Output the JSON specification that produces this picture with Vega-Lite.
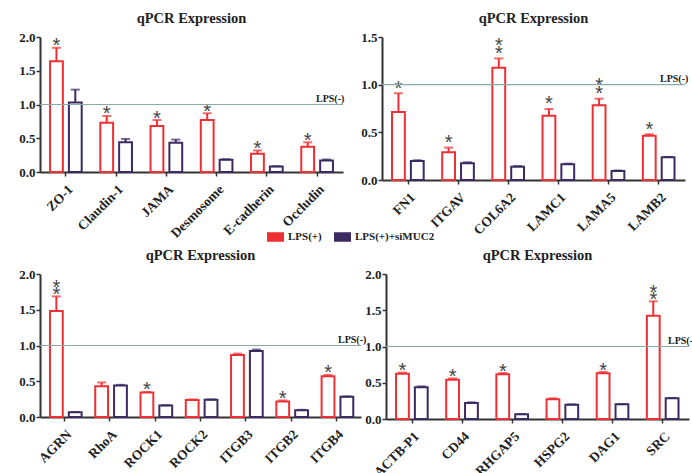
{
  "$schema": "https://vega.github.io/schema/vega-lite/v6.json",
  "padding": {"left": 0, "top": 10, "right": 0, "bottom": 0},
  "datasets": {
    "p1": [
      {"gene": "ZO-1", "group": "LPS(+)", "value": 1.64, "hi": 1.84, "stars": 1},
      {"gene": "ZO-1", "group": "LPS(+)+siMUC2", "value": 1.03, "hi": 1.22, "stars": 0},
      {"gene": "Claudin-1", "group": "LPS(+)", "value": 0.73, "hi": 0.83, "stars": 1},
      {"gene": "Claudin-1", "group": "LPS(+)+siMUC2", "value": 0.44, "hi": 0.49, "stars": 0},
      {"gene": "JAMA", "group": "LPS(+)", "value": 0.68, "hi": 0.77, "stars": 1},
      {"gene": "JAMA", "group": "LPS(+)+siMUC2", "value": 0.435, "hi": 0.48, "stars": 0},
      {"gene": "Desmosome", "group": "LPS(+)", "value": 0.77, "hi": 0.87, "stars": 1},
      {"gene": "Desmosome", "group": "LPS(+)+siMUC2", "value": 0.18, "hi": 0.19, "stars": 0},
      {"gene": "E-cadherin", "group": "LPS(+)", "value": 0.27, "hi": 0.32, "stars": 1},
      {"gene": "E-cadherin", "group": "LPS(+)+siMUC2", "value": 0.08, "hi": 0.085, "stars": 0},
      {"gene": "Occludin", "group": "LPS(+)", "value": 0.375, "hi": 0.44, "stars": 1},
      {"gene": "Occludin", "group": "LPS(+)+siMUC2", "value": 0.17, "hi": 0.185, "stars": 0}
    ],
    "p2": [
      {"gene": "FN1", "group": "LPS(+)", "value": 0.713, "hi": 0.91, "stars": 1},
      {"gene": "FN1", "group": "LPS(+)+siMUC2", "value": 0.2, "hi": 0.207, "stars": 0},
      {"gene": "ITGAV", "group": "LPS(+)", "value": 0.29, "hi": 0.34, "stars": 1},
      {"gene": "ITGAV", "group": "LPS(+)+siMUC2", "value": 0.175, "hi": 0.186, "stars": 0},
      {"gene": "COL6A2", "group": "LPS(+)", "value": 1.177, "hi": 1.275, "stars": 2},
      {"gene": "COL6A2", "group": "LPS(+)+siMUC2", "value": 0.14, "hi": 0.147, "stars": 0},
      {"gene": "LAMC1", "group": "LPS(+)", "value": 0.674, "hi": 0.745, "stars": 1},
      {"gene": "LAMC1", "group": "LPS(+)+siMUC2", "value": 0.165, "hi": 0.172, "stars": 0},
      {"gene": "LAMA5", "group": "LPS(+)", "value": 0.783, "hi": 0.853, "stars": 2},
      {"gene": "LAMA5", "group": "LPS(+)+siMUC2", "value": 0.095, "hi": 0.1, "stars": 0},
      {"gene": "LAMB2", "group": "LPS(+)", "value": 0.464, "hi": 0.48, "stars": 1},
      {"gene": "LAMB2", "group": "LPS(+)+siMUC2", "value": 0.239, "hi": 0.242, "stars": 0}
    ],
    "p3": [
      {"gene": "AGRN", "group": "LPS(+)", "value": 1.483, "hi": 1.687, "stars": 2},
      {"gene": "AGRN", "group": "LPS(+)+siMUC2", "value": 0.066, "hi": 0.07, "stars": 0},
      {"gene": "RhoA", "group": "LPS(+)", "value": 0.431, "hi": 0.483, "stars": 0},
      {"gene": "RhoA", "group": "LPS(+)+siMUC2", "value": 0.44, "hi": 0.45, "stars": 0},
      {"gene": "ROCK1", "group": "LPS(+)", "value": 0.341, "hi": 0.35, "stars": 1},
      {"gene": "ROCK1", "group": "LPS(+)+siMUC2", "value": 0.161, "hi": 0.165, "stars": 0},
      {"gene": "ROCK2", "group": "LPS(+)", "value": 0.237, "hi": 0.246, "stars": 0},
      {"gene": "ROCK2", "group": "LPS(+)+siMUC2", "value": 0.242, "hi": 0.246, "stars": 0},
      {"gene": "ITGB3", "group": "LPS(+)", "value": 0.867, "hi": 0.886, "stars": 0},
      {"gene": "ITGB3", "group": "LPS(+)+siMUC2", "value": 0.924, "hi": 0.943, "stars": 0},
      {"gene": "ITGB2", "group": "LPS(+)", "value": 0.218, "hi": 0.232, "stars": 1},
      {"gene": "ITGB2", "group": "LPS(+)+siMUC2", "value": 0.095, "hi": 0.1, "stars": 0},
      {"gene": "ITGB4", "group": "LPS(+)", "value": 0.569, "hi": 0.588, "stars": 1},
      {"gene": "ITGB4", "group": "LPS(+)+siMUC2", "value": 0.284, "hi": 0.288, "stars": 0}
    ],
    "p4": [
      {"gene": "ACTB-P1", "group": "LPS(+)", "value": 0.625, "hi": 0.64, "stars": 1},
      {"gene": "ACTB-P1", "group": "LPS(+)+siMUC2", "value": 0.437, "hi": 0.45, "stars": 0},
      {"gene": "CD44", "group": "LPS(+)", "value": 0.543, "hi": 0.56, "stars": 1},
      {"gene": "CD44", "group": "LPS(+)+siMUC2", "value": 0.221, "hi": 0.23, "stars": 0},
      {"gene": "ARHGAP5", "group": "LPS(+)", "value": 0.616, "hi": 0.634, "stars": 1},
      {"gene": "ARHGAP5", "group": "LPS(+)+siMUC2", "value": 0.064, "hi": 0.068, "stars": 0},
      {"gene": "HSPG2", "group": "LPS(+)", "value": 0.271, "hi": 0.285, "stars": 0},
      {"gene": "HSPG2", "group": "LPS(+)+siMUC2", "value": 0.198, "hi": 0.202, "stars": 0},
      {"gene": "DAG1", "group": "LPS(+)", "value": 0.63, "hi": 0.648, "stars": 1},
      {"gene": "DAG1", "group": "LPS(+)+siMUC2", "value": 0.202, "hi": 0.206, "stars": 0},
      {"gene": "SRC", "group": "LPS(+)", "value": 1.425, "hi": 1.623, "stars": 2},
      {"gene": "SRC", "group": "LPS(+)+siMUC2", "value": 0.285, "hi": 0.29, "stars": 0}
    ],
    "ref": [{"level": 1, "label": "LPS(-)"}]
  },
  "config": {
    "view": {"stroke": null},
    "font": "Liberation Serif",
    "axis": {"grid": false, "domainColor": "#333", "domainWidth": 2, "tickColor": "#333", "tickWidth": 1.5, "tickSize": 4, "labelFont": "Liberation Serif", "labelFontWeight": "bold", "labelColor": "#222", "labelPadding": 1, "labelOverlap": false},
    "axisX": {"labelFontSize": 13.5, "labelAngle": -45, "labelPadding": 6},
    "axisY": {"labelFontSize": 13, "labelFlush": false, "tickCount": 10},
    "title": {"font": "Liberation Serif", "fontSize": 14.5, "fontWeight": "bold", "color": "#222", "offset": 5}
  },
  "spacing": 7,
  "vconcat": [
    {
      "spacing": 15,
      "hconcat": [
        {
          "title": "qPCR Expression",
          "width": 303, "height": 135,
          "data": {"name": "p1"},
          "layer": [
            {"mark": {"type": "bar", "fill": "white", "strokeWidth": 2},
             "encoding": {
               "x": {"field": "gene", "type": "nominal", "sort": null, "title": null, "scale": {"paddingInner": 0.37, "paddingOuter": 0.2}},
               "xOffset": {"field": "group", "type": "nominal", "sort": ["LPS(+)", "LPS(+)+siMUC2"], "scale": {"paddingInner": 0.32}},
               "y": {"field": "value", "type": "quantitative", "title": null, "scale": {"domain": [0, 2], "nice": false}, "axis": {"values": [0, 0.5, 1, 1.5, 2], "tickCount": 10, "format": ".1f", "minExtent": 40, "labelOverlap": false}},
               "stroke": {"field": "group", "type": "nominal", "scale": {"domain": ["LPS(+)", "LPS(+)+siMUC2"], "range": ["#ee3034", "#3b2b62"]},
                 "legend": {"title": null, "orient": "none", "legendX": 227, "legendY": 191, "direction": "horizontal", "symbolType": "M-1,-0.5H1V0.5H-1Z", "symbolSize": 225, "symbolStrokeWidth": 2, "symbolFillColor": "white", "labelFont": "Liberation Serif", "labelFontWeight": "bold", "labelFontSize": 11, "labelColor": "#222", "labelOffset": 4, "columnPadding": 9, "encode": {"symbols": {"update": {"fill": {"value": "white"}, "strokeWidth": {"value": 2}}}}}}
             }},
            {"mark": {"type": "rule", "strokeWidth": 2},
             "encoding": {
               "x": {"field": "gene", "type": "nominal", "sort": null, "title": null},
               "xOffset": {"field": "group", "type": "nominal", "sort": ["LPS(+)", "LPS(+)+siMUC2"]},
               "y": {"field": "value", "type": "quantitative", "title": null},
               "y2": {"field": "hi"},
               "stroke": {"field": "group", "type": "nominal", "legend": null}
             }},
            {"mark": {"type": "tick", "thickness": 2, "size": 9},
             "encoding": {
               "x": {"field": "gene", "type": "nominal", "sort": null, "title": null},
               "xOffset": {"field": "group", "type": "nominal", "sort": ["LPS(+)", "LPS(+)+siMUC2"]},
               "y": {"field": "hi", "type": "quantitative", "title": null},
               "color": {"field": "group", "type": "nominal", "scale": {"domain": ["LPS(+)", "LPS(+)+siMUC2"], "range": ["#ee3034", "#3b2b62"]}, "legend": null}
             }},
            {"transform": [{"filter": "datum.stars >= 1"}],
             "mark": {"type": "text", "text": "*", "font": "Liberation Sans", "fontSize": 20, "color": "#444", "baseline": "alphabetic", "dy": 4.5},
             "encoding": {
               "x": {"field": "gene", "type": "nominal", "sort": null, "title": null},
               "xOffset": {"field": "group", "type": "nominal", "sort": ["LPS(+)", "LPS(+)+siMUC2"]},
               "y": {"field": "hi", "type": "quantitative", "title": null}
             }},
            {"data": {"name": "ref"},
             "mark": {"type": "rule", "color": "#8aaca6", "strokeWidth": 1.2},
             "encoding": {"y": {"field": "level", "type": "quantitative", "title": null}}},
            {"data": {"name": "ref"},
             "mark": {"type": "text", "align": "left", "baseline": "bottom", "dx": -27, "dy": -1, "font": "Liberation Serif", "fontWeight": "bold", "fontSize": 10, "color": "#222"},
             "encoding": {"x": {"value": "width"}, "y": {"field": "level", "type": "quantitative", "title": null}, "text": {"field": "label"}}}
          ]
        },
        {
          "title": "qPCR Expression",
          "width": 303, "height": 143,
          "data": {"name": "p2"},
          "layer": [
            {"mark": {"type": "bar", "fill": "white", "strokeWidth": 2},
             "encoding": {
               "x": {"field": "gene", "type": "nominal", "sort": null, "title": null, "scale": {"paddingInner": 0.36, "paddingOuter": 0.2}},
               "xOffset": {"field": "group", "type": "nominal", "sort": ["LPS(+)", "LPS(+)+siMUC2"], "scale": {"paddingInner": 0.32}},
               "y": {"field": "value", "type": "quantitative", "title": null, "scale": {"domain": [0, 1.5], "nice": false}, "axis": {"values": [0, 0.5, 1, 1.5], "tickCount": 10, "format": ".1f", "labelOverlap": false}},
               "stroke": {"field": "group", "type": "nominal", "scale": {"domain": ["LPS(+)", "LPS(+)+siMUC2"], "range": ["#ee3034", "#3b2b62"]},
                 "legend": {"title": null, "orient": "none", "legendX": 227, "legendY": 191, "direction": "horizontal", "symbolType": "M-1,-0.5H1V0.5H-1Z", "symbolSize": 225, "symbolStrokeWidth": 2, "symbolFillColor": "white", "labelFont": "Liberation Serif", "labelFontWeight": "bold", "labelFontSize": 11, "labelColor": "#222", "labelOffset": 4, "columnPadding": 9, "encode": {"symbols": {"update": {"fill": {"value": "white"}, "strokeWidth": {"value": 2}}}}}}
             }},
            {"mark": {"type": "rule", "strokeWidth": 2},
             "encoding": {
               "x": {"field": "gene", "type": "nominal", "sort": null, "title": null},
               "xOffset": {"field": "group", "type": "nominal", "sort": ["LPS(+)", "LPS(+)+siMUC2"]},
               "y": {"field": "value", "type": "quantitative", "title": null},
               "y2": {"field": "hi"},
               "stroke": {"field": "group", "type": "nominal", "legend": null}
             }},
            {"mark": {"type": "tick", "thickness": 2, "size": 9},
             "encoding": {
               "x": {"field": "gene", "type": "nominal", "sort": null, "title": null},
               "xOffset": {"field": "group", "type": "nominal", "sort": ["LPS(+)", "LPS(+)+siMUC2"]},
               "y": {"field": "hi", "type": "quantitative", "title": null},
               "color": {"field": "group", "type": "nominal", "scale": {"domain": ["LPS(+)", "LPS(+)+siMUC2"], "range": ["#ee3034", "#3b2b62"]}, "legend": null}
             }},
            {"transform": [{"filter": "datum.stars >= 1"}],
             "mark": {"type": "text", "text": "*", "font": "Liberation Sans", "fontSize": 20, "color": "#444", "baseline": "alphabetic", "dy": 1.5},
             "encoding": {
               "x": {"field": "gene", "type": "nominal", "sort": null, "title": null},
               "xOffset": {"field": "group", "type": "nominal", "sort": ["LPS(+)", "LPS(+)+siMUC2"]},
               "y": {"field": "hi", "type": "quantitative", "title": null}
             }},
            {"transform": [{"filter": "datum.stars >= 2"}],
             "mark": {"type": "text", "text": "*", "font": "Liberation Sans", "fontSize": 20, "color": "#444", "baseline": "alphabetic", "dy": -6.5},
             "encoding": {
               "x": {"field": "gene", "type": "nominal", "sort": null, "title": null},
               "xOffset": {"field": "group", "type": "nominal", "sort": ["LPS(+)", "LPS(+)+siMUC2"]},
               "y": {"field": "hi", "type": "quantitative", "title": null}
             }},
            {"data": {"name": "ref"},
             "mark": {"type": "rule", "color": "#8aaca6", "strokeWidth": 1.2},
             "encoding": {"y": {"field": "level", "type": "quantitative", "title": null}}},
            {"data": {"name": "ref"},
             "mark": {"type": "text", "align": "left", "baseline": "bottom", "dx": -25, "dy": -1, "font": "Liberation Serif", "fontWeight": "bold", "fontSize": 10, "color": "#222"},
             "encoding": {"x": {"value": "width"}, "y": {"field": "level", "type": "quantitative", "title": null}, "text": {"field": "label"}}}
          ]
        }
      ]
    },
    {
      "spacing": -3,
      "hconcat": [
        {
          "title": "qPCR Expression",
          "width": 321, "height": 143,
          "data": {"name": "p3"},
          "layer": [
            {"mark": {"type": "bar", "fill": "white", "strokeWidth": 2},
             "encoding": {
               "x": {"field": "gene", "type": "nominal", "sort": null, "title": null, "scale": {"paddingInner": 0.35, "paddingOuter": 0.22}},
               "xOffset": {"field": "group", "type": "nominal", "sort": ["LPS(+)", "LPS(+)+siMUC2"], "scale": {"paddingInner": 0.32}},
               "y": {"field": "value", "type": "quantitative", "title": null, "scale": {"domain": [0, 2], "nice": false}, "axis": {"values": [0, 0.5, 1, 1.5, 2], "tickCount": 10, "format": ".1f", "labelOverlap": false}},
               "stroke": {"field": "group", "type": "nominal", "scale": {"domain": ["LPS(+)", "LPS(+)+siMUC2"], "range": ["#ee3034", "#3b2b62"]},
                 "legend": {"title": null, "orient": "none", "legendX": 227, "legendY": 191, "direction": "horizontal", "symbolType": "M-1,-0.5H1V0.5H-1Z", "symbolSize": 225, "symbolStrokeWidth": 2, "symbolFillColor": "white", "labelFont": "Liberation Serif", "labelFontWeight": "bold", "labelFontSize": 11, "labelColor": "#222", "labelOffset": 4, "columnPadding": 9, "encode": {"symbols": {"update": {"fill": {"value": "white"}, "strokeWidth": {"value": 2}}}}}}
             }},
            {"mark": {"type": "rule", "strokeWidth": 2},
             "encoding": {
               "x": {"field": "gene", "type": "nominal", "sort": null, "title": null},
               "xOffset": {"field": "group", "type": "nominal", "sort": ["LPS(+)", "LPS(+)+siMUC2"]},
               "y": {"field": "value", "type": "quantitative", "title": null},
               "y2": {"field": "hi"},
               "stroke": {"field": "group", "type": "nominal", "legend": null}
             }},
            {"mark": {"type": "tick", "thickness": 2, "size": 9},
             "encoding": {
               "x": {"field": "gene", "type": "nominal", "sort": null, "title": null},
               "xOffset": {"field": "group", "type": "nominal", "sort": ["LPS(+)", "LPS(+)+siMUC2"]},
               "y": {"field": "hi", "type": "quantitative", "title": null},
               "color": {"field": "group", "type": "nominal", "scale": {"domain": ["LPS(+)", "LPS(+)+siMUC2"], "range": ["#ee3034", "#3b2b62"]}, "legend": null}
             }},
            {"transform": [{"filter": "datum.stars >= 1"}],
             "mark": {"type": "text", "text": "*", "font": "Liberation Sans", "fontSize": 20, "color": "#444", "baseline": "alphabetic", "dy": 4.5},
             "encoding": {
               "x": {"field": "gene", "type": "nominal", "sort": null, "title": null},
               "xOffset": {"field": "group", "type": "nominal", "sort": ["LPS(+)", "LPS(+)+siMUC2"]},
               "y": {"field": "hi", "type": "quantitative", "title": null}
             }},
            {"transform": [{"filter": "datum.stars >= 2"}],
             "mark": {"type": "text", "text": "*", "font": "Liberation Sans", "fontSize": 20, "color": "#444", "baseline": "alphabetic", "dy": -2.5},
             "encoding": {
               "x": {"field": "gene", "type": "nominal", "sort": null, "title": null},
               "xOffset": {"field": "group", "type": "nominal", "sort": ["LPS(+)", "LPS(+)+siMUC2"]},
               "y": {"field": "hi", "type": "quantitative", "title": null}
             }},
            {"data": {"name": "ref"},
             "mark": {"type": "rule", "color": "#8aaca6", "strokeWidth": 1.2},
             "encoding": {"y": {"field": "level", "type": "quantitative", "title": null}}},
            {"data": {"name": "ref"},
             "mark": {"type": "text", "align": "left", "baseline": "bottom", "dx": -23, "dy": -1, "font": "Liberation Serif", "fontWeight": "bold", "fontSize": 10, "color": "#222"},
             "encoding": {"x": {"value": "width"}, "y": {"field": "level", "type": "quantitative", "title": null}, "text": {"field": "label"}}}
          ]
        },
        {
          "title": "qPCR Expression",
          "width": 303, "height": 145,
          "data": {"name": "p4"},
          "layer": [
            {"mark": {"type": "bar", "fill": "white", "strokeWidth": 2},
             "encoding": {
               "x": {"field": "gene", "type": "nominal", "sort": null, "title": null, "scale": {"paddingInner": 0.36, "paddingOuter": 0.2}},
               "xOffset": {"field": "group", "type": "nominal", "sort": ["LPS(+)", "LPS(+)+siMUC2"], "scale": {"paddingInner": 0.32}},
               "y": {"field": "value", "type": "quantitative", "title": null, "scale": {"domain": [0, 2], "nice": false}, "axis": {"values": [0, 0.5, 1, 1.5, 2], "tickCount": 10, "format": ".1f", "labelOverlap": false}},
               "stroke": {"field": "group", "type": "nominal", "scale": {"domain": ["LPS(+)", "LPS(+)+siMUC2"], "range": ["#ee3034", "#3b2b62"]},
                 "legend": {"title": null, "orient": "none", "legendX": 227, "legendY": 191, "direction": "horizontal", "symbolType": "M-1,-0.5H1V0.5H-1Z", "symbolSize": 225, "symbolStrokeWidth": 2, "symbolFillColor": "white", "labelFont": "Liberation Serif", "labelFontWeight": "bold", "labelFontSize": 11, "labelColor": "#222", "labelOffset": 4, "columnPadding": 9, "encode": {"symbols": {"update": {"fill": {"value": "white"}, "strokeWidth": {"value": 2}}}}}}
             }},
            {"mark": {"type": "rule", "strokeWidth": 2},
             "encoding": {
               "x": {"field": "gene", "type": "nominal", "sort": null, "title": null},
               "xOffset": {"field": "group", "type": "nominal", "sort": ["LPS(+)", "LPS(+)+siMUC2"]},
               "y": {"field": "value", "type": "quantitative", "title": null},
               "y2": {"field": "hi"},
               "stroke": {"field": "group", "type": "nominal", "legend": null}
             }},
            {"mark": {"type": "tick", "thickness": 2, "size": 9},
             "encoding": {
               "x": {"field": "gene", "type": "nominal", "sort": null, "title": null},
               "xOffset": {"field": "group", "type": "nominal", "sort": ["LPS(+)", "LPS(+)+siMUC2"]},
               "y": {"field": "hi", "type": "quantitative", "title": null},
               "color": {"field": "group", "type": "nominal", "scale": {"domain": ["LPS(+)", "LPS(+)+siMUC2"], "range": ["#ee3034", "#3b2b62"]}, "legend": null}
             }},
            {"transform": [{"filter": "datum.stars >= 1"}],
             "mark": {"type": "text", "text": "*", "font": "Liberation Sans", "fontSize": 20, "color": "#444", "baseline": "alphabetic", "dy": 4.5},
             "encoding": {
               "x": {"field": "gene", "type": "nominal", "sort": null, "title": null},
               "xOffset": {"field": "group", "type": "nominal", "sort": ["LPS(+)", "LPS(+)+siMUC2"]},
               "y": {"field": "hi", "type": "quantitative", "title": null}
             }},
            {"transform": [{"filter": "datum.stars >= 2"}],
             "mark": {"type": "text", "text": "*", "font": "Liberation Sans", "fontSize": 20, "color": "#444", "baseline": "alphabetic", "dy": -2.5},
             "encoding": {
               "x": {"field": "gene", "type": "nominal", "sort": null, "title": null},
               "xOffset": {"field": "group", "type": "nominal", "sort": ["LPS(+)", "LPS(+)+siMUC2"]},
               "y": {"field": "hi", "type": "quantitative", "title": null}
             }},
            {"data": {"name": "ref"},
             "mark": {"type": "rule", "color": "#8aaca6", "strokeWidth": 1.2},
             "encoding": {"y": {"field": "level", "type": "quantitative", "title": null}}},
            {"data": {"name": "ref"},
             "mark": {"type": "text", "align": "left", "baseline": "bottom", "dx": -21, "dy": -1, "font": "Liberation Serif", "fontWeight": "bold", "fontSize": 10, "color": "#222"},
             "encoding": {"x": {"value": "width"}, "y": {"field": "level", "type": "quantitative", "title": null}, "text": {"field": "label"}}}
          ]
        }
      ]
    }
  ]
}
